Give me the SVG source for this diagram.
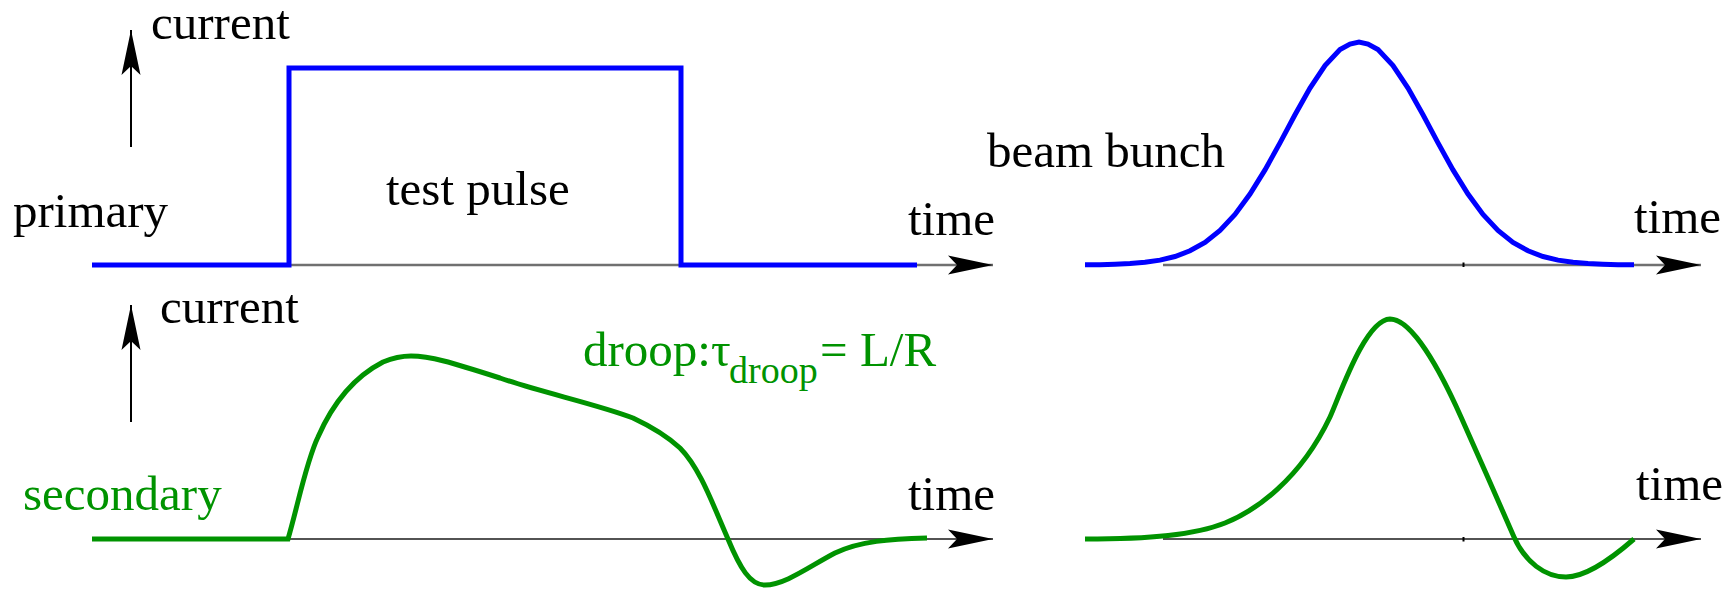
<svg xmlns="http://www.w3.org/2000/svg" width="1736" height="589" viewBox="0 0 1736 589">
<style>
text{font-family:"Liberation Serif","Times New Roman",serif;font-size:49px;fill:#000}
.g{fill:#009300}
.blue{fill:none;stroke:#0000ff;stroke-width:5}
.green{fill:none;stroke:#009300;stroke-width:5;stroke-linecap:butt}
.axt{stroke:#707070;stroke-width:2.6;fill:none}
.axb{stroke:#1a1a1a;stroke-width:1.6;fill:none}
.up{stroke:#000;stroke-width:2;fill:none}
</style>
<defs>
<marker id="ah" viewBox="-46 -10 47 20" refX="0" refY="0" markerWidth="47" markerHeight="20" markerUnits="userSpaceOnUse" orient="auto">
<path d="M0 0 L-45 -9.5 L-36 0 L-45 9.5 Z" fill="#000"/>
</marker>
</defs>
<g id="connectors">
<line class="up" x1="131" y1="147" x2="131" y2="30" marker-end="url(#ah)"/>
<line class="up" x1="131" y1="422" x2="131" y2="305" marker-end="url(#ah)"/>
<line class="axt" x1="289" y1="265" x2="993" y2="265" marker-end="url(#ah)"/>
<line class="axt" x1="1163" y1="265" x2="1701" y2="265" marker-end="url(#ah)"/>
<line x1="1463.5" y1="262.5" x2="1463.5" y2="267" stroke="#000" stroke-width="2"/>
<line class="axb" x1="289" y1="539" x2="993" y2="539" marker-end="url(#ah)"/>
<line class="axb" x1="1163" y1="539" x2="1701" y2="539" marker-end="url(#ah)"/>
<line x1="1463.5" y1="537" x2="1463.5" y2="541.5" stroke="#000" stroke-width="2"/>
</g>
<g id="primary-pulse">
<path class="blue" d="M92 265 H289 V68 H681 V265 H917"/>
</g>
<g id="beam-bunch-curve">
<path class="blue" d="M1085 264.8 L1100 264.7 L1115 264.3 L1130 263.6 L1145 262.3 L1160 260.1 L1175 256.5 L1190 250.8 L1205 242.4 L1220 230.4 L1235 214.4 L1250 194.1 L1265 169.9 L1280 142.9 L1295 114.8 L1310 88.1 L1325 65.5 L1340 49.6 L1350 44 L1359 42 L1368 44 L1378 49.6 L1393 65.5 L1408 88.1 L1423 114.8 L1438 142.9 L1453 169.9 L1468 194.1 L1483 214.4 L1498 230.4 L1513 242.4 L1528 250.8 L1543 256.5 L1558 260.1 L1573 262.3 L1588 263.6 L1603 264.3 L1618 264.7 L1634 264.8"/>
</g>
<g id="secondary-pulse">
<path class="green" d="M92 539 L288 539 C298 505 306 462 318 437 C332 405 352 378 383 362 C395 357 403 356 411 356 C430 356 450 362 500 378 C540 392 600 405 633 418 C650 426 667 436 680 448 C700 468 713 505 728 539 C740 568 750 585 765 585 C785 585 810 566 835 553 C860 541 890 539 927 538"/>
</g>
<g id="secondary-bunch">
<path class="green" d="M1085 539 C1150 539 1195 535 1225 523 C1255 511 1300 480 1330 417 C1340 395 1365 320 1390 319 C1412 319 1440 370 1461 417 C1475 448 1500 505 1514 537 C1525 562 1545 577 1566 577 C1585 577 1610 560 1634 539"/>
</g>
<g id="labels">
<text x="151" y="39">current</text>
<text x="13" y="227">primary</text>
<text x="386" y="205">test pulse</text>
<text x="908" y="235">time</text>
<text x="987" y="167">beam bunch</text>
<text x="1634" y="233">time</text>
<text x="160" y="323">current</text>
<text class="g" x="23" y="510">secondary</text>
<text x="908" y="510">time</text>
<text x="1636" y="500">time</text>
<text class="g" x="583" y="366" font-size="47">droop:τ<tspan x="729" y="383" font-size="38">droop</tspan><tspan x="820" y="366">= L/R</tspan></text>
</g>
</svg>
